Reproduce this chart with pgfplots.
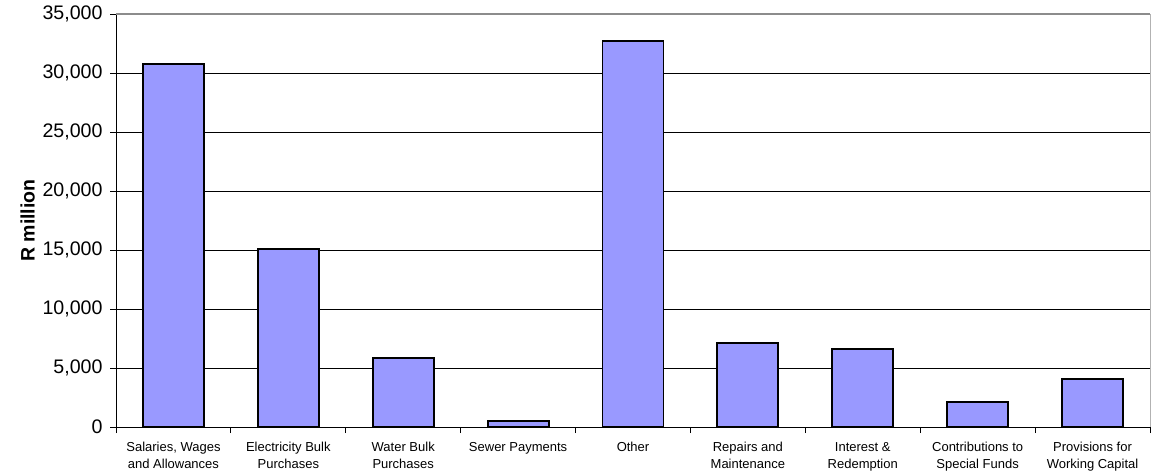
\documentclass[border=0pt]{standalone}
\usepackage{pgfplots}
\pgfplotsset{compat=1.18}
\usepackage{fontspec}
\setmainfont{Liberation Sans}
\definecolor{barfill}{HTML}{9999FF}
\begin{document}
\begin{tikzpicture}
\begin{axis}[
  name=ax,
  at={(0,0)}, anchor=south west,
  scale only axis,
  width=1034bp, height=413bp,
  xmin=-0.5, xmax=8.5,
  ymin=0, ymax=35000,
  ytick={0,5000,10000,15000,20000,25000,30000,35000},
  xtick={-0.5,0.5,1.5,2.5,3.5,4.5,5.5,6.5,7.5,8.5},
  xticklabels={},
  extra x ticks={0,1,2,3,4,5,6,7,8},
  extra x tick labels={{Salaries, Wages\\and Allowances},{Electricity Bulk\\Purchases},{Water Bulk\\Purchases},{Sewer Payments},{Other},{Repairs and\\Maintenance},{Interest \&\\Redemption},{Contributions to\\Special Funds},{Provisions for\\Working Capital}},
  extra x tick style={major tick length=0pt},
  axis x line*=bottom, axis y line*=left,
  axis line style={black, line width=0.9bp},
  tick align=outside,
  major tick length=6bp,
  tick style={black, line width=0.8bp},
  ymajorgrids,
  major grid style={black, line width=0.8bp},
  /pgf/number format/assume math mode=true,
  /pgf/number format/1000 sep={,},
  scaled y ticks=false,
  yticklabel style={font=\fontsize{19.6bp}{23bp}\selectfont, xshift=-4bp},
  xticklabel style={font=\fontsize{13bp}{17bp}\selectfont, align=center, anchor=north, yshift=-12bp},
  ylabel={R million},
  ylabel style={font=\fontsize{19.5bp}{23bp}\selectfont\bfseries, yshift=1bp},
  ybar, bar width=61bp,
]
\addplot[fill=barfill, draw=black, line width=1.8bp] coordinates {
  (0,30740) (1,15110) (2,5820) (3,490) (4,32740) (5,7150) (6,6610) (7,2090) (8,4040)
};
\end{axis}
\draw[color=black!45, line width=1.3bp] (ax.north west) -- (ax.north east);
\draw[color=black!30, line width=0.8bp] (ax.north east) -- (ax.south east);
\pgfresetboundingbox
\path[use as bounding box] ([shift={(-116bp,-45bp)}]ax.south west) rectangle ([shift={(2bp,14bp)}]ax.north east);
\end{tikzpicture}
\end{document}
